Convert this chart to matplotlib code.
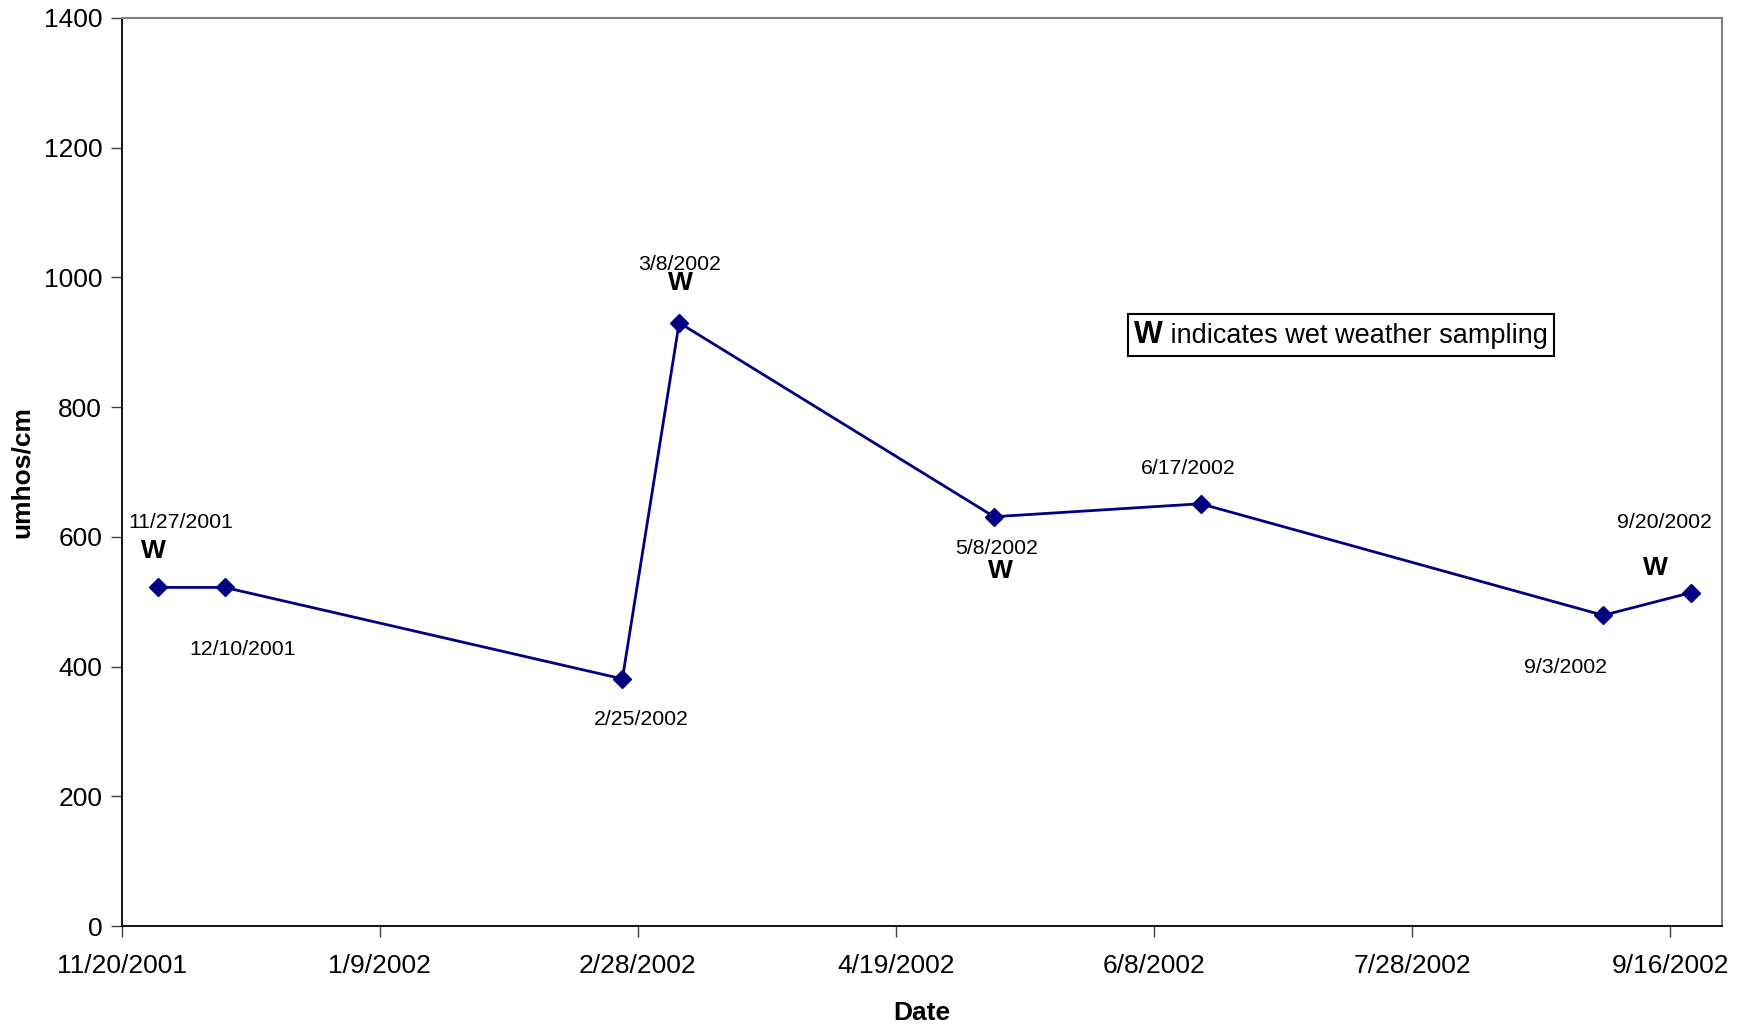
import matplotlib.pyplot as plt
import pandas as pd
from matplotlib.offsetbox import TextArea, HPacker, AnchoredOffsetbox

plt.rcParams['font.family'] = ['Liberation Sans', 'DejaVu Sans']

# Conductivity samples
dates = pd.to_datetime(['2001-11-27', '2001-12-10', '2002-02-25', '2002-03-08',
                        '2002-05-08', '2002-06-17', '2002-09-03', '2002-09-20'])
values = [522, 522, 381, 930, 631, 651, 479, 514]
labels = ['11/27/2001', '12/10/2001', '2/25/2002', '3/8/2002',
          '5/8/2002', '6/17/2002', '9/3/2002', '9/20/2002']
wet = [True, False, False, True, True, False, False, True]

# label offsets in pixels (dx, dy) from each marker; y up
label_off = [(23, 65), (18, -62), (19, -41), (0, 58),
             (3, -32), (-12, 35), (-38, -52), (-27, 70)]
w_off = [(-4, 36), None, None, (1, 40), (6, -54), None, None, (-36, 25)]

tick_dates = pd.date_range('2001-11-20', periods=7, freq='50D')

fig = plt.figure(figsize=(17.5, 10.27), dpi=100)
ax = fig.add_axes([0.0695, 0.0983, 0.9145, 0.8843])

ax.plot(dates, values, color='#000080', lw=2, marker='D', ms=9.5,
        markerfacecolor='#000080', markeredgecolor='#000080')

for d, v, lab, off, w, wo in zip(dates, values, labels, label_off, wet, w_off):
    ax.annotate(lab, (d, v), xytext=off, textcoords='offset pixels',
                ha='center', va='center', fontsize=15.3)
    if w:
        ax.annotate('W', (d, v), xytext=wo, textcoords='offset pixels',
                    ha='center', va='center', fontsize=19, fontweight='bold')

ax.set_xlim(pd.Timestamp('2001-11-20'), pd.Timestamp('2002-09-26'))
ax.set_ylim(0, 1400)
ax.set_yticks(range(0, 1401, 200))
ax.set_xticks(tick_dates)
ax.set_xticklabels([f'{d.month}/{d.day}/{d.year}' for d in tick_dates])

ax.tick_params(axis='both', labelsize=19, length=8, width=1, color='#404040',
               direction='out')
ax.tick_params(axis='x', pad=12)
ax.tick_params(axis='y', pad=6)

for side in ['left', 'bottom']:
    ax.spines[side].set_color('black')
    ax.spines[side].set_linewidth(1.3)
for side in ['top', 'right']:
    ax.spines[side].set_color('#808080')
    ax.spines[side].set_linewidth(1.5)

ax.set_xlabel('Date', fontsize=19, fontweight='bold', labelpad=17)
ax.set_ylabel('umhos/cm', fontsize=19, fontweight='bold', labelpad=7)

# key for the W markers
key = HPacker(children=[
    TextArea('W', textprops=dict(fontsize=22, fontweight='bold')),
    TextArea(' indicates wet weather sampling', textprops=dict(fontsize=19.5)),
], align='baseline', pad=0, sep=0)
box = AnchoredOffsetbox(loc='center', child=key, pad=0.45, borderpad=0,
                        frameon=True, bbox_to_anchor=(0.762, 0.651),
                        bbox_transform=ax.transAxes)
box.patch.set_edgecolor('black')
box.patch.set_linewidth(1.5)
box.patch.set_boxstyle('square', pad=0)
ax.add_artist(box)

fig.savefig('out.png', dpi=100)
